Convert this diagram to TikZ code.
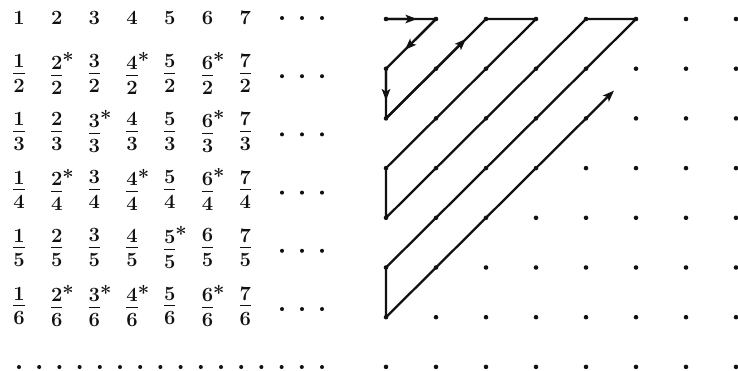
\documentclass[tikz,border=0pt]{standalone}
\usetikzlibrary{arrows.meta,calc}
\definecolor{inkblack}{HTML}{111111}
\newcommand{\nstar}{\rlap{\raisebox{1pt}{*}}}
\newcommand{\qfrac}[2]{$\vcenter{\offinterlineskip\halign{\hfil##\hfil\cr #1\cr
  \noalign{\kern2.8pt\hrule height0.45pt\kern3.2pt}#2\cr}}$}

\begin{document}
\begin{tikzpicture}[x=0.02cm,y=-0.02cm,
  entry/.style={inner sep=0pt,text=inkblack,font=\fontsize{11.5}{13}\selectfont\bfseries},
  zigzag/.style={draw=inkblack,line width=1.3pt,line join=round},
  midarrow/.style={zigzag,-{Stealth[length=6.5pt,width=4.8pt,inset=1.5pt]}}]
\useasboundingbox (0,0) rectangle (738,370);
\foreach \n in {1,...,7}
  \node[entry] (q\n-1) at ({19+37.7*(\n-1)},18) {\n};
\foreach \d/\nums in {2/{1,2\nstar,3,4\nstar,5,6\nstar,7},
                      3/{1,2,3\nstar,4,5,6\nstar,7},
                      4/{1,2\nstar,3,4\nstar,5,6\nstar,7},
                      5/{1,2,3,4,5\nstar,6,7},
                      6/{1,2\nstar,3\nstar,4\nstar,5,6\nstar,7}}
  \foreach \n [count=\c] in \nums
    \node[entry] (q\c-\d) at ({19+37.7*(\c-1)},{73.5+58.1*(\d-2)}) {\qfrac{\n}{\d}};
\foreach \d in {1,...,6}
  \foreach \k in {0,1,2}
    \fill[inkblack] ({282+20*\k},{18+58.2*(\d-1)}) circle (1.15pt);
\foreach \k in {0,...,15}
  \fill[inkblack] ({19+20.2*\k},367) circle (1.15pt);
\foreach \c in {1,...,8}
  \foreach \r in {1,...,8} {
    \coordinate (g\c-\r) at ({386+50*(\c-1)},{19+49.7*(\r-1)});
    \fill[inkblack] (g\c-\r) circle (1.3pt);
  }
\draw[zigzag] (g1-1) -- (g2-1) -- (g1-2) -- (g1-3) -- (g3-1) -- (g4-1) -- (g1-4) -- (g1-5)
  -- (g5-1) -- (g6-1) -- (g1-6) -- (g1-7);
\foreach \a/\b/\t in {g1-1/g2-1/0.62, g2-1/g1-2/0.62, g1-2/g1-3/0.64, g1-3/g3-1/0.8, g1-7/g7-1/0.76}
  \draw[midarrow] (\a) -- ($(\a)!\t!(\b)$);
\end{tikzpicture}
\end{document}
